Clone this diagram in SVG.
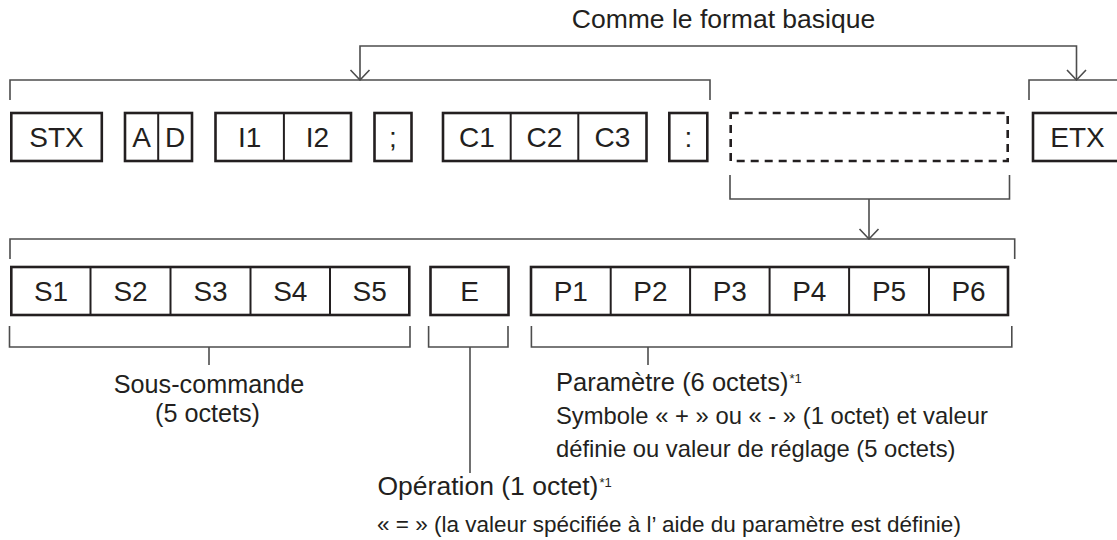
<svg xmlns="http://www.w3.org/2000/svg" width="1117" height="540" viewBox="0 0 1117 540">
<style>
.box{fill:#fff;stroke:#231f20;stroke-width:2.6}
.div{stroke:#231f20;stroke-width:2}
.dash{fill:none;stroke:#231f20;stroke-width:2.6;stroke-dasharray:8 6}
.lbl{font-family:"Liberation Sans",Arial,sans-serif;font-size:28px;fill:#231f20;text-anchor:middle}
.txt{font-family:"Liberation Sans",Arial,sans-serif;fill:#231f20}
.con{fill:none;stroke:#4d4d4d;stroke-width:1.6}
.sup{font-size:13px}
</style>
<defs>
<marker id="v" viewBox="0 0 12 22" refX="11" refY="11" markerWidth="12" markerHeight="22" markerUnits="userSpaceOnUse" orient="auto-start-reverse">
<path d="M1,1.5 L11,11 L1,20.5" fill="none" stroke="#4d4d4d" stroke-width="1.6"/>
</marker>
</defs>
<rect width="1117" height="540" fill="#fff"/>

<g id="title">
<text class="txt" x="723.5" y="28.3" font-size="26.5" text-anchor="middle">Comme le format basique</text>
</g>

<g id="connectors">
<path class="con" d="M360,80 V46 H1076.5 V80" marker-start="url(#v)" marker-end="url(#v)"/>
<path class="con" d="M10,100 V80 H710 V100"/>
<path class="con" d="M1029,100 V80 H1117"/>
<path class="con" d="M730,175 V199 H1009.5 V175"/>
<path class="con" d="M869,199 V239" marker-end="url(#v)"/>
<path class="con" d="M10,259 V239 H1014.7 V259"/>
<path class="con" d="M9.5,326 V347 H410 V326"/>
<path class="con" d="M209,347 V365"/>
<path class="con" d="M428.6,326 V347 H508 V326"/>
<path class="con" d="M470,347 V473"/>
<path class="con" d="M531.4,326 V347 H1011.8 V326"/>
<path class="con" d="M648,347 V365"/>
</g>

<g id="stx">
<rect class="box" x="11.3" y="113" width="90.5" height="48"/>
<text class="lbl" x="56.5" y="146.8">STX</text>
</g>
<g id="ad">
<rect class="box" x="125" y="113" width="67" height="48"/>
<line class="div" x1="158.2" y1="113" x2="158.2" y2="161"/>
<text class="lbl" x="141.6" y="146.8">A</text>
<text class="lbl" x="175.2" y="146.8">D</text>
</g>
<g id="i12">
<rect class="box" x="215.5" y="113" width="135.5" height="48"/>
<line class="div" x1="283.9" y1="113" x2="283.9" y2="161"/>
<text class="lbl" x="249.7" y="146.8">I1</text>
<text class="lbl" x="317.5" y="146.8">I2</text>
</g>
<g id="semicolon">
<rect class="box" x="374.5" y="113" width="37" height="48"/>
<text class="lbl" x="393" y="146.8">;</text>
</g>
<g id="c123">
<rect class="box" x="443" y="113" width="203.5" height="48"/>
<line class="div" x1="510.7" y1="113" x2="510.7" y2="161"/>
<line class="div" x1="578.3" y1="113" x2="578.3" y2="161"/>
<text class="lbl" x="477" y="146.8">C1</text>
<text class="lbl" x="544.5" y="146.8">C2</text>
<text class="lbl" x="612.4" y="146.8">C3</text>
</g>
<g id="colon">
<rect class="box" x="669.3" y="113" width="38" height="48"/>
<text class="lbl" x="688.3" y="146.8">:</text>
</g>
<g id="param-area">
<rect class="dash" x="730.7" y="113" width="277" height="48"/>
</g>
<g id="etx">
<rect class="box" x="1033" y="113" width="90" height="48"/>
<text class="lbl" x="1077.5" y="146.8">ETX</text>
</g>

<g id="subcommand">
<rect class="box" x="11.3" y="267" width="398" height="48"/>
<line class="div" x1="90.5" y1="267" x2="90.5" y2="315"/>
<line class="div" x1="170.5" y1="267" x2="170.5" y2="315"/>
<line class="div" x1="250.5" y1="267" x2="250.5" y2="315"/>
<line class="div" x1="330" y1="267" x2="330" y2="315"/>
<text class="lbl" x="51" y="300.8">S1</text>
<text class="lbl" x="130.5" y="300.8">S2</text>
<text class="lbl" x="210.5" y="300.8">S3</text>
<text class="lbl" x="290.3" y="300.8">S4</text>
<text class="lbl" x="369.7" y="300.8">S5</text>
</g>
<g id="operation">
<rect class="box" x="430.5" y="267" width="78" height="48"/>
<text class="lbl" x="469.5" y="300.8">E</text>
</g>
<g id="parameter">
<rect class="box" x="531" y="267" width="477" height="48"/>
<line class="div" x1="610.7" y1="267" x2="610.7" y2="315"/>
<line class="div" x1="690.1" y1="267" x2="690.1" y2="315"/>
<line class="div" x1="769.6" y1="267" x2="769.6" y2="315"/>
<line class="div" x1="849.1" y1="267" x2="849.1" y2="315"/>
<line class="div" x1="929" y1="267" x2="929" y2="315"/>
<text class="lbl" x="570.8" y="300.8">P1</text>
<text class="lbl" x="650.4" y="300.8">P2</text>
<text class="lbl" x="729.8" y="300.8">P3</text>
<text class="lbl" x="809.3" y="300.8">P4</text>
<text class="lbl" x="889" y="300.8">P5</text>
<text class="lbl" x="968.5" y="300.8">P6</text>
</g>

<g id="label-subcommand">
<text class="txt" x="209" y="393" font-size="25.2" text-anchor="middle">Sous-commande</text>
<text class="txt" x="207.5" y="421.5" font-size="25.2" text-anchor="middle">(5 octets)</text>
</g>
<g id="label-parameter">
<text class="txt" x="556" y="391" font-size="25.5">Paramètre (6 octets)<tspan class="sup" dx="1" dy="-8">*1</tspan></text>
<text class="txt" x="556" y="424" font-size="23.8">Symbole « + » ou « - » (1 octet) et valeur</text>
<text class="txt" x="556" y="456.5" font-size="23.8">définie ou valeur de réglage (5 octets)</text>
</g>
<g id="label-operation">
<text class="txt" x="377.5" y="494.5" font-size="26.5">Opération (1 octet)<tspan class="sup" dx="1" dy="-8">*1</tspan></text>
<text class="txt" x="377" y="531.7" font-size="22.5">« = » (la valeur spécifiée à l’ aide du paramètre est définie)</text>
</g>
</svg>
